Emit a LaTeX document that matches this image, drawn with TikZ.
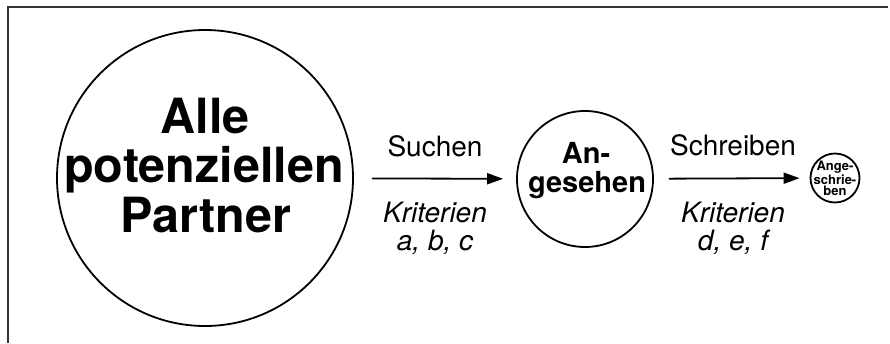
\documentclass[tikz,border=0pt]{standalone}
\usepackage{fontspec}
\setmainfont{TeX Gyre Heros}
\usetikzlibrary{arrows.meta}
\tikzset{
  ring/.style={draw=black, line width=1.8pt, circle, inner sep=0pt},
  bigtxt/.style={anchor=base, inner sep=0pt, font=\fontsize{48.5}{50}\selectfont\bfseries},
  midtxt/.style={anchor=base, inner sep=0pt, font=\fontsize{29}{30}\selectfont\bfseries},
  smalltxt/.style={inner sep=0pt, align=center, font=\fontsize{13}{11.5}\selectfont\bfseries},
  lbl/.style={anchor=base, inner sep=0pt, font=\fontsize{28}{30}\selectfont},
  ilbl/.style={anchor=base, inner sep=0pt, font=\fontsize{28}{30}\selectfont\itshape},
  flow/.style={line width=1.8pt, -{Triangle[length=16pt,width=11pt]}},
  frame/.style={draw=black!80, line width=1.5pt}
}
\begin{document}
\begin{tikzpicture}[x=1pt,y=-1pt]
\useasboundingbox (0,0) rectangle (890,343);
\draw[frame] (8,343) -- (8,7) -- (888,7);
% circles
\node[ring, minimum size=296pt] (all) at (205,178) {};
\node[ring, minimum size=136pt] (seen) at (585,179) {};
\node[ring, minimum size=49pt] (wrote) at (835,178) {};
% big text
\node[bigtxt] (t1) at (205,133) {Alle};
\node[bigtxt] (t2) at (204,182) {potenziellen};
\node[bigtxt] (t3) at (206,232) {Partner};
% mid text
\node[midtxt] (m1) at (586,163) {An-};
\node[midtxt] (m2) at (587,192) {gesehen};
% small text
\node[smalltxt] (s1) at (835,178.5) {Ange-\\schrie-\\ben};
% arrows
\draw[flow, shorten <=18pt, shorten >=13pt] (all) -- (seen);
\draw[flow, shorten <=15pt, shorten >=10pt] (seen) -- (wrote);
% labels
\node[lbl] (l1) at (435,156) {Suchen};
\node[ilbl] (l2) at (435,222) {Kriterien};
\node[ilbl] (l3) at (435,250) {a, b, c};
\node[lbl] (l4) at (733,155) {Schreiben};
\node[ilbl] (l5) at (733,222) {Kriterien};
\node[ilbl] (l6) at (733,250) {d, e, f};
\end{tikzpicture}
\end{document}
